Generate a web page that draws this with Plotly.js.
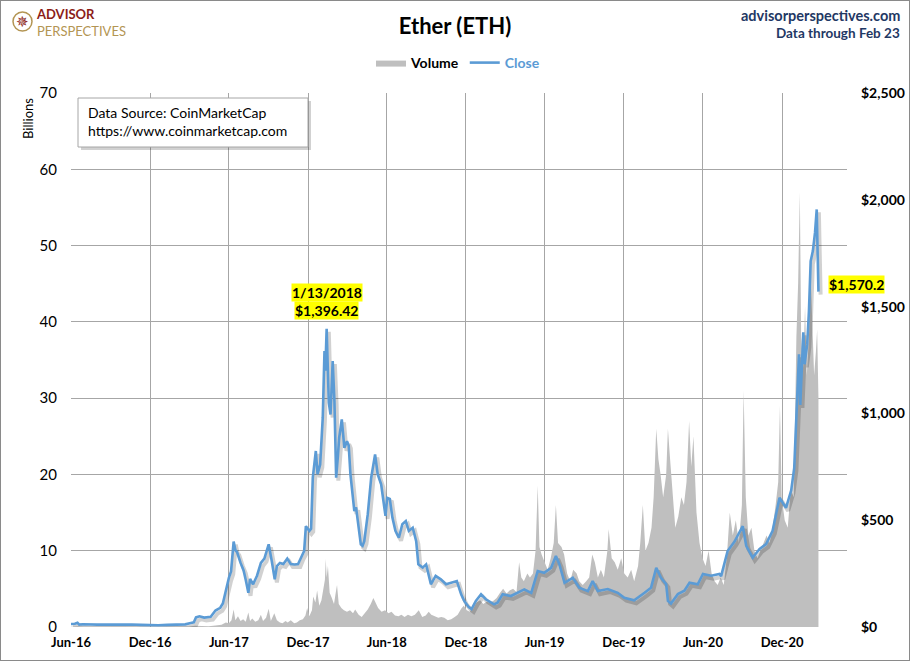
<!DOCTYPE html>
<html>
<head>
<meta charset="utf-8">
<script src="https://cdn.plot.ly/plotly-3.0.1.min.js"></script>
<style>
html,body{margin:0;padding:0;background:#fff;}
#chart{width:908px;height:659px;border:1px solid #8a8a8a;}
</style>
</head>
<body>
<div id="chart"></div>
<script>
// ---- Data ----
const tickDates = ['2016-06-01','2016-12-01','2017-06-01','2017-12-01','2018-06-01','2018-12-01','2019-06-01','2019-12-01','2020-06-01','2020-12-01'];
const tickLabels = ['Jun-16','Dec-16','Jun-17','Dec-17','Jun-18','Dec-18','Jun-19','Dec-19','Jun-20','Dec-20'];

const priceDates = ['2016-06-01','2016-06-10','2016-06-16','2016-06-20','2016-06-28','2016-07-15','2016-08-01','2016-08-20','2016-09-10','2016-10-01','2016-10-20','2016-11-10','2016-12-01','2016-12-20','2017-01-10','2017-02-01','2017-02-20','2017-03-05','2017-03-12','2017-03-17','2017-03-25','2017-04-05','2017-04-20','2017-05-01','2017-05-12','2017-05-18','2017-05-25','2017-06-01','2017-06-06','2017-06-12','2017-06-16','2017-06-20','2017-06-28','2017-07-05','2017-07-10','2017-07-16','2017-07-20','2017-07-27','2017-08-05','2017-08-14','2017-08-22','2017-09-01','2017-09-08','2017-09-15','2017-09-20','2017-09-27','2017-10-05','2017-10-14','2017-10-22','2017-10-31','2017-11-08','2017-11-15','2017-11-22','2017-11-26','2017-12-04','2017-12-08','2017-12-12','2017-12-19','2017-12-23','2017-12-29','2018-01-04','2018-01-08','2018-01-10','2018-01-13','2018-01-16','2018-01-18','2018-01-22','2018-01-27','2018-01-31','2018-02-04','2018-02-08','2018-02-11','2018-02-17','2018-02-23','2018-03-01','2018-03-05','2018-03-09','2018-03-18','2018-03-22','2018-03-26','2018-04-02','2018-04-06','2018-04-10','2018-04-18','2018-04-26','2018-05-05','2018-05-11','2018-05-19','2018-05-25','2018-05-29','2018-06-02','2018-06-08','2018-06-14','2018-06-21','2018-06-29','2018-07-07','2018-07-15','2018-07-22','2018-07-31','2018-08-08','2018-08-13','2018-08-23','2018-08-31','2018-09-11','2018-09-22','2018-10-04','2018-10-16','2018-10-31','2018-11-10','2018-11-20','2018-11-27','2018-12-07','2018-12-14','2018-12-24','2019-01-05','2019-01-16','2019-02-04','2019-02-12','2019-02-24','2019-03-15','2019-04-04','2019-04-15','2019-05-01','2019-05-16','2019-05-31','2019-06-16','2019-06-27','2019-07-05','2019-07-17','2019-08-05','2019-08-20','2019-09-09','2019-09-20','2019-10-02','2019-10-25','2019-11-17','2019-12-02','2019-12-25','2020-01-18','2020-02-02','2020-02-14','2020-02-25','2020-03-08','2020-03-12','2020-03-19','2020-04-04','2020-04-19','2020-05-01','2020-05-20','2020-06-01','2020-06-20','2020-07-09','2020-07-13','2020-07-28','2020-08-13','2020-09-01','2020-09-09','2020-09-24','2020-10-10','2020-10-25','2020-11-09','2020-11-25','2020-12-10','2020-12-22','2020-12-29','2021-01-03','2021-01-06','2021-01-09','2021-01-12','2021-01-14','2021-01-19','2021-01-22','2021-01-28','2021-02-01','2021-02-05','2021-02-10','2021-02-15','2021-02-19','2021-02-21','2021-02-23'];
const priceValues = [14,15,20,11,13,11,11,11,12,13,12,10,8.5,8,10,10.5,12.5,19,22,45,50,44,48,77,90,110,175,230,260,400,360,350,300,265,220,160,225,200,240,300,320,387,310,223,285,300,295,320,295,293,295,330,356,472,450,460,699,824,715,761,980,1292,1200,1396.42,1151,1050,995,1245,1058,699,800,886,972,839,870,850,715,543,560,496,387,380,402,527,699,808,715,668,590,520,605,600,512,450,418,481,496,450,465,402,293,278,293,200,239,223,200,207,215,153,122,95,84,122,153,130,106,114,153,145,165,176,160,262,254,277,332,294,207,230,184,168,215,168,178,160,137,125,160,184,277,230,200,122,110,154,170,207,200,248,240,248,238,356,400,472,380,325,365,388,450,605,558,640,745,975,1150,1277,1040,1137,1380,1230,1324,1479,1713,1760,1845,1955,1780,1570.2];

const volumeDates = ['2016-06-01','2016-06-17','2016-07-01','2016-09-01','2016-12-01','2017-02-01','2017-03-01','2017-03-15','2017-04-01','2017-04-15','2017-05-01','2017-05-15','2017-05-25','2017-06-01','2017-06-07','2017-06-12','2017-06-16','2017-06-22','2017-06-28','2017-07-04','2017-07-10','2017-07-16','2017-07-20','2017-07-25','2017-08-01','2017-08-08','2017-08-14','2017-08-19','2017-08-26','2017-09-01','2017-09-06','2017-09-14','2017-09-20','2017-09-27','2017-10-03','2017-10-10','2017-10-15','2017-10-22','2017-10-30','2017-11-05','2017-11-12','2017-11-19','2017-11-25','2017-11-29','2017-12-04','2017-12-10','2017-12-13','2017-12-18','2017-12-22','2017-12-27','2018-01-01','2018-01-05','2018-01-09','2018-01-11','2018-01-13','2018-01-16','2018-01-20','2018-01-25','2018-01-30','2018-02-03','2018-02-06','2018-02-10','2018-02-16','2018-02-22','2018-03-01','2018-03-08','2018-03-15','2018-03-20','2018-03-28','2018-04-04','2018-04-11','2018-04-18','2018-04-25','2018-05-01','2018-05-06','2018-05-12','2018-05-20','2018-05-28','2018-06-05','2018-06-12','2018-06-20','2018-06-28','2018-07-05','2018-07-12','2018-07-20','2018-07-28','2018-08-05','2018-08-14','2018-08-22','2018-08-30','2018-09-06','2018-09-12','2018-09-20','2018-09-28','2018-10-05','2018-10-12','2018-10-20','2018-10-28','2018-11-05','2018-11-12','2018-11-20','2018-11-26','2018-12-03','2018-12-10','2018-12-18','2018-12-25','2019-01-03','2019-01-10','2019-01-18','2019-01-25','2019-02-02','2019-02-10','2019-02-18','2019-02-25','2019-03-05','2019-03-12','2019-03-20','2019-03-28','2019-04-03','2019-04-08','2019-04-14','2019-04-22','2019-04-28','2019-05-05','2019-05-11','2019-05-16','2019-05-20','2019-05-25','2019-06-01','2019-06-08','2019-06-15','2019-06-22','2019-06-27','2019-07-02','2019-07-10','2019-07-16','2019-07-23','2019-07-30','2019-08-06','2019-08-14','2019-08-20','2019-08-28','2019-09-05','2019-09-12','2019-09-19','2019-09-25','2019-10-02','2019-10-09','2019-10-16','2019-10-24','2019-10-27','2019-11-03','2019-11-10','2019-11-17','2019-11-25','2019-12-02','2019-12-10','2019-12-18','2019-12-25','2020-01-03','2020-01-08','2020-01-14','2020-01-20','2020-01-27','2020-02-03','2020-02-08','2020-02-14','2020-02-19','2020-02-24','2020-03-01','2020-03-08','2020-03-12','2020-03-17','2020-03-22','2020-03-29','2020-04-05','2020-04-12','2020-04-18','2020-04-24','2020-04-30','2020-05-05','2020-05-10','2020-05-17','2020-05-24','2020-05-31','2020-06-07','2020-06-14','2020-06-21','2020-06-28','2020-07-05','2020-07-12','2020-07-19','2020-07-26','2020-08-02','2020-08-09','2020-08-16','2020-08-23','2020-08-30','2020-09-03','2020-09-08','2020-09-14','2020-09-21','2020-09-28','2020-10-05','2020-10-12','2020-10-19','2020-10-26','2020-11-02','2020-11-09','2020-11-16','2020-11-22','2020-11-26','2020-11-30','2020-12-07','2020-12-14','2020-12-21','2020-12-28','2021-01-03','2021-01-07','2021-01-11','2021-01-14','2021-01-19','2021-01-23','2021-01-27','2021-02-01','2021-02-05','2021-02-09','2021-02-13','2021-02-17','2021-02-20','2021-02-23'];
const volumeValues = [0.02,0.08,0.02,0.02,0.01,0.02,0.05,0.15,0.1,0.1,0.2,0.3,0.6,0.5,0.9,2.3,0.9,1.4,0.8,1.0,0.7,1.9,0.8,1.1,0.7,0.9,1.6,0.8,1.2,2.4,0.8,1.8,0.9,0.6,0.5,0.8,0.6,0.9,0.5,0.6,0.9,1.0,1.5,2.5,1.4,2.2,4.0,3.2,4.8,2.8,3.5,5.0,6.2,8.9,6.5,8.0,4.5,3.8,3.0,4.5,5.5,3.0,2.5,2.2,2.0,2.2,1.8,2.3,1.6,1.3,1.8,2.3,3.0,3.8,3.2,2.5,2.0,2.2,1.8,2.0,1.5,1.4,1.6,1.3,1.6,1.4,1.6,2.2,1.3,1.5,2.0,1.6,1.4,1.2,1.3,1.2,0.9,1.0,1.3,1.6,2.4,2.8,2.2,2.0,2.8,3.2,3.5,3.0,3.3,3.2,3.4,3.8,4.5,5.0,4.4,4.8,5.0,4.6,8.5,6.5,6.0,7.0,6.5,7.0,10.0,18.5,10.5,9.5,8.5,7.5,9.0,11.0,16.0,11.0,10.5,9.5,7.0,6.0,7.5,7.0,6.0,5.5,6.0,6.5,9.5,8.5,6.5,7.5,6.5,10.0,12.8,9.0,8.5,7.5,9.0,7.0,6.5,7.5,6.0,8.0,11.0,16.0,10.0,11.0,13.0,17.0,26.0,22.0,20.0,17.0,20.0,26.0,22.0,18.0,13.0,14.5,17.0,16.0,19.0,27.0,21.0,25.0,15.0,11.0,9.0,8.0,10.0,7.0,6.0,5.5,6.5,5.5,9.0,15.0,12.0,14.0,11.0,16.0,31.0,17.0,12.0,13.0,10.0,9.0,10.0,11.0,12.0,11.0,13.0,16.0,19.0,29.0,17.0,14.0,13.0,18.0,17.0,38.0,45.0,57.0,38.0,34.0,42.0,33.0,38.0,46.0,40.0,33.0,36.0,39.0,30.0];

const peakDate = '2018-01-13', peakValue = 1396.42;
const lastDate = '2021-02-23', lastValue = 1570.2;

// ---- Layout helpers (pixel -> paper) ----
const L = 70, R = 846, T = 92, B = 626;
const px = x => (x - L) / (R - L);
const py = y => (B - y) / (B - T);

const FONT = 'Lato, "Open Sans", sans-serif';
const xRange = ['2016-06-01', '2021-04-30'];

const traces = [
  {
    name: 'Volume', x: volumeDates, y: volumeValues, type: 'scatter', mode: 'lines',
    fill: 'tozeroy', fillcolor: '#BFBFBF', line: {width: 0, color: '#BFBFBF'},
    xaxis: 'x', yaxis: 'y', hoverinfo: 'skip'
  },
  {
    name: 'shadow', x: priceDates, y: priceValues, type: 'scatter', mode: 'lines',
    line: {width: 4, color: 'rgba(0,0,0,0.18)'}, showlegend: false,
    xaxis: 'x2', yaxis: 'y2', hoverinfo: 'skip'
  },
  {
    name: '<span style="color:#5B9BD5">Close</span>', x: priceDates, y: priceValues, type: 'scatter', mode: 'lines',
    line: {width: 2.6, color: '#5B9BD5'},
    xaxis: 'x3', yaxis: 'y3'
  }
];

const layout = {
  width: 908, height: 659,
  margin: {l: L, r: 908 - R, t: T, b: 659 - B},
  paper_bgcolor: '#fff', plot_bgcolor: '#fff',
  font: {family: FONT, color: '#000'},
  title: {text: 'Ether (ETH)', x: 0.5, xref: 'container', xanchor: 'center',
          y: 1 - 25 / 659, yref: 'container', yanchor: 'middle',
          font: {family: FONT, size: 22, weight: 'bold', color: '#000'}},
  showlegend: true,
  legend: {orientation: 'h', x: px(457), xanchor: 'center', y: py(62), yanchor: 'middle',
           font: {family: FONT, size: 14, weight: 'bold', color: '#000'},
           itemwidth: 30, tracegroupgap: 0, bgcolor: 'rgba(0,0,0,0)'},
  xaxis: {
    type: 'date', range: xRange, tickvals: tickDates, ticktext: tickLabels,
    showgrid: true, gridcolor: '#A6A6A6', gridwidth: 1,
    tickfont: {family: FONT, size: 13, weight: 'bold', color: '#000'},
    ticks: '', showline: false, zeroline: false, ticklabelstandoff: 6
  },
  yaxis: {
    range: [0, 70], dtick: 10, tick0: 0,
    showgrid: true, gridcolor: '#A6A6A6', gridwidth: 1,
    tickfont: {family: FONT, size: 15, color: '#000'},
    ticks: '', showline: false, zeroline: false, ticklabelstandoff: 13
  },
  xaxis2: {type: 'date', overlaying: 'x', range: ['2016-05-27', '2021-04-25'], visible: false},
  yaxis2: {overlaying: 'y', range: [14, 2514], visible: false},
  xaxis3: {type: 'date', overlaying: 'x', range: xRange, visible: false},
  yaxis3: {
    overlaying: 'y', side: 'right', anchor: 'x3', range: [0, 2500],
    tickvals: [0, 500, 1000, 1500, 2000, 2500], tickformat: '$,.0f',
    showgrid: false, zeroline: false, ticks: '', showline: false,
    tickfont: {family: FONT, size: 14, weight: 'bold', color: '#000'},
    ticklabelstandoff: 13
  },
  shapes: [
    // data source box shadow + box
    {type: 'rect', xref: 'paper', yref: 'paper', x0: px(80), x1: px(310), y0: py(149), y1: py(100),
     fillcolor: 'rgba(0,0,0,0.18)', line: {width: 0}, layer: 'above'},
    {type: 'rect', xref: 'paper', yref: 'paper', x0: px(77), x1: px(307), y0: py(146), y1: py(97),
     fillcolor: '#fff', line: {width: 1, color: '#A6A6A6'}, layer: 'above'},
    // logo compass ring
    {type: 'circle', xref: 'paper', yref: 'paper', x0: px(12), x1: px(31), y0: py(30), y1: py(11),
     line: {width: 1.5, color: '#B39553'}, fillcolor: 'rgba(0,0,0,0)'}
  ],
  annotations: [
    {xref: 'paper', yref: 'paper', x: px(85), y: py(120), xanchor: 'left', yanchor: 'middle', align: 'left',
     showarrow: false, text: 'Data Source: CoinMarketCap<br>https://www.coinmarketcap.com',
     font: {family: FONT, size: 14, color: '#000'}},
    {xref: 'paper', yref: 'paper', x: px(27), y: py(118), xanchor: 'center', yanchor: 'middle',
     textangle: -90, showarrow: false, text: 'Billions',
     font: {family: FONT, size: 13, color: '#000'}},
    {xref: 'paper', yref: 'paper', x: px(901), y: py(15), xanchor: 'right', yanchor: 'middle',
     showarrow: false, text: 'advisorperspectives.com',
     font: {family: FONT, size: 14.5, weight: 'bold', color: '#1F3864'}},
    {xref: 'paper', yref: 'paper', x: px(901), y: py(32), xanchor: 'right', yanchor: 'middle',
     showarrow: false, text: 'Data through Feb 23',
     font: {family: FONT, size: 13.5, weight: 'bold', color: '#1F3864'}},
    {xref: 'paper', yref: 'paper', x: px(33), y: py(21), xanchor: 'left', yanchor: 'middle', align: 'left',
     showarrow: false,
     text: '<span style="color:#8C1D18;font-weight:bold">ADVISOR</span><br><span style="color:#B39553">PERSPECTIVES</span>',
     font: {family: FONT, size: 13, color: '#8C1D18'}},
    {xref: 'paper', yref: 'paper', x: px(21.5), y: py(20.5), xanchor: 'center', yanchor: 'middle',
     showarrow: false, text: '\u2735',
     font: {family: '"DejaVu Sans", sans-serif', size: 15, color: '#8C1D18'}},
    // peak labels
    {xref: 'x3', yref: 'y3', x: peakDate, y: peakValue, yshift: 36, xanchor: 'center', yanchor: 'middle',
     showarrow: false, text: '1/13/2018', bgcolor: '#FFFF00', borderpad: 0,
     font: {family: FONT, size: 14, weight: 'bold', color: '#000'}},
    {xref: 'x3', yref: 'y3', x: peakDate, y: peakValue, yshift: 18, xanchor: 'center', yanchor: 'middle',
     showarrow: false, text: '$1,396.42', bgcolor: '#FFFF00', borderpad: 0,
     font: {family: FONT, size: 14, weight: 'bold', color: '#000'}},
    {xref: 'x3', yref: 'y3', x: lastDate, y: lastValue, xshift: 10, yshift: 7, xanchor: 'left', yanchor: 'middle',
     showarrow: false, text: '$1,570.2', bgcolor: '#FFFF00', borderpad: 0,
     font: {family: FONT, size: 14, weight: 'bold', color: '#000'}}
  ]
};

Plotly.newPlot('chart', traces, layout, {displayModeBar: false, staticPlot: true});
</script>
</body>
</html>
